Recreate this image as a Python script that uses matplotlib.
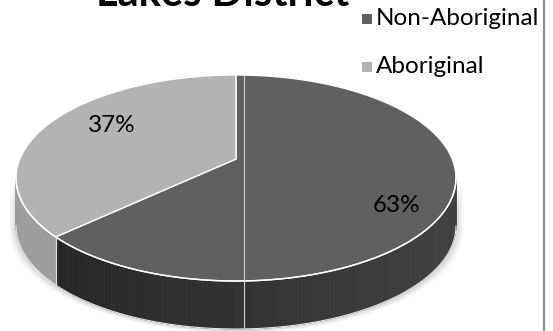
import numpy as np
import matplotlib.pyplot as plt
from matplotlib.patches import Polygon, Rectangle
from matplotlib.colors import to_rgb

# data
labels = ['Non-Aboriginal', 'Aboriginal']
values = [63, 37]
title = 'Lakes District'

# styles
top_colors = ['#606060', '#b3b3b3']
side_colors = [('#424242', '#232323'), ('#aaaaaa', '#9c9c9c')]
label_pos = [(397, 205), (112, 125)]
font = 'Lato'

# 3d pie projection (pixel space, y down)
CX, CY = 236, 159
A, B, K = 216.2, 70.17, 0.1845
DEPTH = 48


def proj(theta, r=1.0, dz=0.0):
    t = np.radians(theta)
    u = r * np.sin(t)
    v = -r * np.cos(t)
    w = 1 - K * v
    return CX + A * u / w, (CY + B * v) / w + dz


def mix(c1, c2, f):
    a, b = np.array(to_rgb(c1)), np.array(to_rgb(c2))
    return tuple(a + (b - a) * f)


fig = plt.figure(figsize=(5.53, 3.31), dpi=100)
ax = fig.add_axes([0, 0, 1, 1])
ax.set_xlim(0, 553)
ax.set_ylim(331, 0)
ax.axis('off')

angles = np.concatenate([[0], np.cumsum(values) / sum(values) * 360])
vis0 = np.degrees(np.arccos(-K))
vis1 = 360 - vis0

# soft shadow under the pie
th = np.linspace(vis0, vis1, 200)
for grow, alpha in [(7, 0.06), (5, 0.08), (3, 0.12)]:
    xs, ys = proj(th, 1.0, DEPTH)
    xs = CX + (xs - CX) * (1 + grow / 220)
    ys = ys + grow * 0.5
    ax.fill_between(xs, ys - DEPTH, ys, color='#808080', alpha=alpha, lw=0)

# side walls
for i in range(len(values)):
    a0, a1 = max(angles[i], vis0), min(angles[i + 1], vis1)
    if a1 <= a0:
        continue
    ts = np.linspace(a0, a1, 120)
    for t0, t1 in zip(ts[:-1], ts[1:]):
        x0, y0 = proj(t0)
        x1, y1 = proj(t1)
        f = np.clip((x0 + x1) / 2 / 470, 0, 1)
        c = mix(side_colors[i][1], side_colors[i][0], f)
        ax.add_patch(Polygon([(x0, y0), (x1, y1), (x1, y1 + DEPTH), (x0, y0 + DEPTH)],
                             closed=True, fc=c, ec=c, lw=0.6))

# top faces
for i in range(len(values)):
    ts = np.linspace(angles[i], angles[i + 1], 200)
    xs, ys = proj(ts)
    pts = [proj(0, 0)] + list(zip(xs, ys))
    ax.add_patch(Polygon(pts, closed=True, fc=top_colors[i], ec='white', lw=1.0, joinstyle='miter'))

# highlight edges
xs, ys = proj(th)
ax.plot(xs, ys, color='white', lw=1.0)
ax.plot(xs, ys + DEPTH, color='#e8e8e8', lw=0.8)
for a in angles[1:-1]:
    if vis0 < a < vis1:
        x, y = proj(a)
        ax.plot([x, x], [y, y + DEPTH], color='#e0e0e0', lw=0.8)
x_top, y_top = proj(0)
ax.plot([x_top + 8, x_top + 8], [y_top, 331], color='#cfcfcf', lw=0.8)

# data labels
for v, (x, y) in zip(values, label_pos):
    ax.text(x, y, f'{v}%', fontsize=17.5, family=font, ha='center', va='center', color='black')

# title (clipped at the top like the reference)
ax.text(223, 6, title, fontsize=30, family=font, fontweight='bold', ha='center', va='baseline')

# legend
for i, lab in enumerate(labels):
    yc = 18.5 + i * 48
    ax.add_patch(Rectangle((362, yc - 5), 10, 10, fc=top_colors[i], ec='none'))
    ax.text(376, yc, lab, fontsize=17.5, family=font, ha='left', va='center')

# right border
ax.plot([544, 544], [0, 331], color='#8f8f8f', lw=1.6)

fig.savefig('out.png', dpi=100)
